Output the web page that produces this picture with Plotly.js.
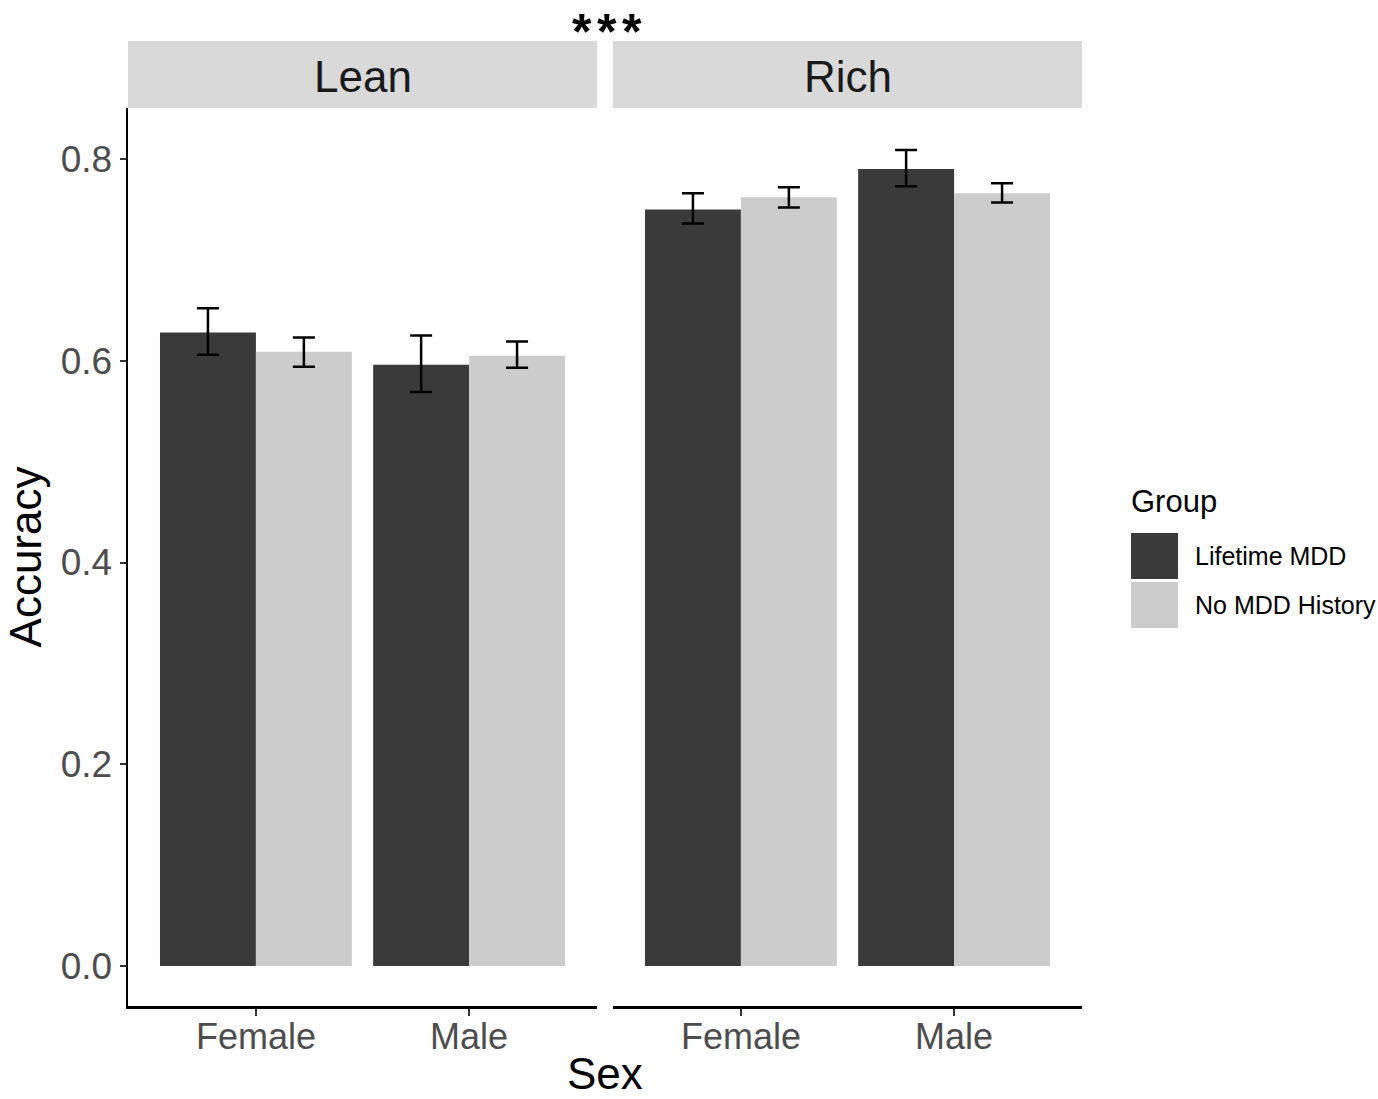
<!DOCTYPE html>
<html>
<head>
<meta charset="utf-8">
<script src="https://cdn.plot.ly/plotly-3.0.1.min.js"></script>
<style>html,body{margin:0;padding:0;background:#fff;}#chart{width:1378px;height:1099px;}</style>
</head>
<body>
<div id="chart"></div>
<script>
// ---- data ----
const sexes = ["Female", "Male"];
const panels = ["Lean", "Rich"];
const groups = ["Lifetime MDD", "No MDD History"];
// accuracy means per panel and group, by sex
const leanMDD = [0.628, 0.596];
const leanNoMDD = [0.609, 0.605];
const richMDD = [0.750, 0.790];
const richNoMDD = [0.762, 0.766];
// error bar upper / lower limits
const leanMDDHi = [0.652, 0.625];
const leanMDDLo = [0.606, 0.569];
const leanNoMDDHi = [0.623, 0.619];
const leanNoMDDLo = [0.594, 0.593];
const richMDDHi = [0.766, 0.809];
const richMDDLo = [0.736, 0.773];
const richNoMDDHi = [0.772, 0.776];
const richNoMDDLo = [0.752, 0.757];
const yTicks = [0, 0.2, 0.4, 0.6, 0.8];
const sigLabel = "***";
const xTitle = "Sex";
const yTitle = "Accuracy";
const legendTitle = "Group";

// ---- styling ----
const colors = ["#3a3a3a", "#cccccc"];
const FONT = "Liberation Sans, Arial, Helvetica, sans-serif";
const L = 128, R = 1082, T = 108, B = 1006;
const W = R - L, H = B - T;
const px = x => (x - L) / W;
const py = y => (B - y) / H;

function trace(name, vals, hi, lo, color, xa) {
  return {
    type: "bar", name: name, x: sexes, y: vals,
    xaxis: xa, yaxis: "y",
    marker: {color: color, line: {width: 0}},
    error_y: {type: "data", symmetric: false,
      array: vals.map((v, i) => hi[i] - v),
      arrayminus: vals.map((v, i) => v - lo[i]),
      color: "#000", thickness: 2.5, width: 11},
    showlegend: false, legendgroup: name
  };
}

const data = [
  trace(groups[0], leanMDD, leanMDDHi, leanMDDLo, colors[0], "x"),
  trace(groups[1], leanNoMDD, leanNoMDDHi, leanNoMDDLo, colors[1], "x"),
  trace(groups[0], richMDD, richMDDHi, richMDDLo, colors[0], "x2"),
  trace(groups[1], richNoMDD, richNoMDDHi, richNoMDDLo, colors[1], "x2")
];

const xBase = {
  type: "category", range: [-0.6, 1.6], fixedrange: true,
  showline: true, linecolor: "#000", linewidth: 2.5,
  ticks: "outside", ticklen: 7, tickwidth: 2, tickcolor: "#333",
  ticklabelstandoff: -10,
  tickfont: {family: FONT, size: 36, color: "#4d4d4d"},
  showgrid: false, zeroline: false, anchor: "y"
};
const gap = 16 / W;

// significance marker: one annotation per asterisk so they are spaced like the original
const sigChars = sigLabel.split("");
const sigAnnots = sigChars.map((c, i) => ({
  text: c, xref: "paper", yref: "paper",
  x: px(607 + (i - (sigChars.length - 1) / 2) * 25), y: py(3),
  showarrow: false, xanchor: "center", yanchor: "top", borderpad: 0,
  font: {family: FONT, size: 50, color: "#000", weight: 700}
}));

const layout = {
  width: 1378, height: 1099,
  margin: {l: L, r: 1378 - R, t: T, b: 1099 - B},
  paper_bgcolor: "#fff", plot_bgcolor: "#fff",
  font: {family: FONT, color: "#000"},
  barmode: "group", bargap: 0.1, bargroupgap: 0,
  showlegend: false,
  xaxis: Object.assign({}, xBase, {domain: [0, 0.5 - gap / 2]}),
  xaxis2: Object.assign({}, xBase, {domain: [0.5 + gap / 2, 1]}),
  yaxis: {
    range: [-0.0397, 0.8506], fixedrange: true,
    tickvals: yTicks, ticktext: yTicks.map(v => v.toFixed(1)),
    showline: true, linecolor: "#000", linewidth: 2.5,
    ticks: "outside", ticklen: 6, tickwidth: 2, tickcolor: "#333",
    tickfont: {family: FONT, size: 37, color: "#4d4d4d"},
    showgrid: false, zeroline: false, anchor: "x",
    title: {text: yTitle, font: {family: FONT, size: 44, color: "#000"}, standoff: 6}
  },
  shapes: [
    {type: "rect", xref: "paper", yref: "paper", x0: 0, x1: 0.5 - gap / 2, y0: 1, y1: py(41), fillcolor: "#d9d9d9", line: {width: 0}},
    {type: "rect", xref: "paper", yref: "paper", x0: 0.5 + gap / 2, x1: 1, y0: 1, y1: py(41), fillcolor: "#d9d9d9", line: {width: 0}},
    {type: "rect", xref: "paper", yref: "paper", x0: px(1131), x1: px(1178), y0: py(579), y1: py(533), fillcolor: colors[0], line: {width: 0}},
    {type: "rect", xref: "paper", yref: "paper", x0: px(1131), x1: px(1178), y0: py(628), y1: py(582), fillcolor: colors[1], line: {width: 0}}
  ],
  annotations: [
    {text: panels[0], xref: "paper", yref: "paper", x: (0.5 - gap / 2) / 2, y: py(77), showarrow: false, xanchor: "center", yanchor: "middle", font: {family: FONT, size: 44, color: "#1a1a1a"}},
    {text: panels[1], xref: "paper", yref: "paper", x: (1 + 0.5 + gap / 2) / 2, y: py(77), showarrow: false, xanchor: "center", yanchor: "middle", font: {family: FONT, size: 44, color: "#1a1a1a"}},
    ...sigAnnots,
    {text: xTitle, xref: "paper", yref: "paper", x: 0.5, y: py(1099), showarrow: false, xanchor: "center", yanchor: "bottom", borderpad: 0, font: {family: FONT, size: 44, color: "#000"}},
    {text: legendTitle, xref: "paper", yref: "paper", x: px(1129), y: py(501), showarrow: false, xanchor: "left", yanchor: "middle", font: {family: FONT, size: 31, color: "#000"}},
    {text: groups[0], xref: "paper", yref: "paper", x: px(1193), y: py(556), showarrow: false, xanchor: "left", yanchor: "middle", font: {family: FONT, size: 25, color: "#000"}},
    {text: groups[1], xref: "paper", yref: "paper", x: px(1193), y: py(605), showarrow: false, xanchor: "left", yanchor: "middle", font: {family: FONT, size: 25, color: "#000"}}
  ]
};

Plotly.newPlot("chart", data, layout, {staticPlot: true, displayModeBar: false});
</script>
</body>
</html>
